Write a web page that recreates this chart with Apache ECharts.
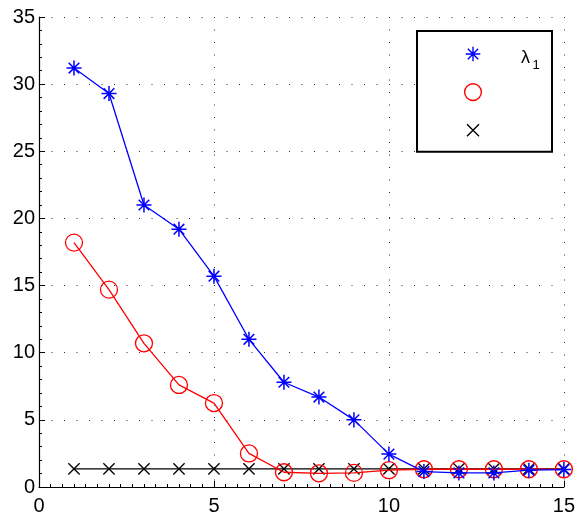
<!DOCTYPE html>
<html>
<head>
<meta charset="utf-8">
<script src="https://cdn.jsdelivr.net/npm/echarts@6/dist/echarts.min.js"></script>
<style>
  html, body { margin: 0; padding: 0; background: #fff; }
  #chart { width: 578px; height: 518px; }
</style>
</head>
<body>
<div id="chart"></div>
<script>
// Iteration index on the x axis
const steps = [1, 2, 3, 4, 5, 6, 7, 8, 9, 10, 11, 12, 13, 14, 15];
// Eigenvalue estimates per step
const lambda1 = [31.2, 29.3, 21.0, 19.2, 15.7, 11.0, 7.8, 6.7, 5.0, 2.45, 1.15, 1.05, 1.05, 1.25, 1.3];
const lambda2 = [18.2, 14.7, 10.7, 7.6, 6.25, 2.5, 1.1, 1.02, 1.05, 1.25, 1.32, 1.32, 1.32, 1.32, 1.32];
const lambda3 = [1.35, 1.35, 1.35, 1.35, 1.35, 1.35, 1.35, 1.35, 1.35, 1.35, 1.35, 1.35, 1.35, 1.35, 1.35];
const xTicks = [0, 5, 10, 15];
const yTicks = [0, 5, 10, 15, 20, 25, 30, 35];

const pairs = (ys) => steps.map((x, i) => [x, ys[i]]);

// Stroke-only marker shapes; the leading moveTo points pad the bounding box
const asterisk = 'path://M-1.15,-1.15M1.15,1.15M0,-1L0,1M-1,0L1,0M-0.707,-0.707L0.707,0.707M-0.707,0.707L0.707,-0.707';
const cross = 'path://M-1.4,-1.4M1.4,1.4M-1,-1L1,1M-1,1L1,-1';

const font = 'Liberation Sans, Arial, Helvetica, sans-serif';

const chart = echarts.init(document.getElementById('chart'), null, { renderer: 'canvas' });

const gridLine = { show: true, lineStyle: { color: '#333', width: 1, type: [1, 11.5] } };

chart.setOption({
  animation: false,
  backgroundColor: '#fff',
  grid: { left: 39, right: 12, top: 17, bottom: 31, containLabel: false },
  xAxis: {
    type: 'value',
    min: xTicks[0], max: xTicks[xTicks.length - 1], interval: 5,
    axisLine: { show: true, onZero: false, lineStyle: { color: '#000', width: 1.2 } },
    axisTick: { show: true, inside: true, length: 6, lineStyle: { color: '#000', width: 1 } },
    minorTick: { show: true, splitNumber: 15, length: 3, lineStyle: { color: '#000', width: 1 } },
    axisLabel: { color: '#000', fontSize: 20, fontFamily: font, margin: 9 },
    splitLine: gridLine
  },
  yAxis: {
    type: 'value',
    min: yTicks[0], max: yTicks[yTicks.length - 1], interval: 5,
    axisLine: { show: true, onZero: false, lineStyle: { color: '#000', width: 1.2 } },
    axisTick: { show: true, inside: true, length: 6, lineStyle: { color: '#000', width: 1 } },
    minorTick: { show: true, splitNumber: 5, length: 3, lineStyle: { color: '#000', width: 1 } },
    axisLabel: { color: '#000', fontSize: 20, fontFamily: font, margin: 4 },
    splitLine: gridLine
  },
  legend: {
    orient: 'vertical',
    left: 417, top: 31,
    padding: [12.5, 35, 12.5, 12],
    itemWidth: 88, itemHeight: 21, itemGap: 18.5,
    borderColor: '#000', borderWidth: 2,
    backgroundColor: '#fff',
    selectedMode: false,
    lineStyle: { width: 0, opacity: 0 },
    itemStyle: { borderWidth: 1.4 },
    data: ['λ1', 'λ2', 'λ3'],
    formatter: () => '',
    textStyle: { color: '#000', fontFamily: font, fontSize: 18 }
  },
  // Legend label for the first entry, lambda with subscript 1
  graphic: [
    {
      type: 'text', left: 521, top: 49, z: 100,
      style: { text: 'λ', fontSize: 18, fontFamily: font, fill: '#000' }
    },
    {
      type: 'text', left: 532.5, top: 59, z: 100,
      style: { text: '1', fontSize: 13, fontFamily: font, fill: '#000' }
    }
  ],
  series: [
    {
      name: 'λ1', type: 'line', data: pairs(lambda1),
      symbol: asterisk, symbolSize: 17.3,
      itemStyle: { color: 'transparent', borderColor: '#0000ff', borderWidth: 1.5 },
      lineStyle: { color: '#0000ff', width: 1.3 },
      z: 4
    },
    {
      name: 'λ2', type: 'line', data: pairs(lambda2),
      symbol: 'circle', symbolSize: 17,
      itemStyle: { color: 'transparent', borderColor: '#ff0000', borderWidth: 1.3 },
      lineStyle: { color: '#ff0000', width: 1.3 },
      z: 3
    },
    {
      name: 'λ3', type: 'line', data: pairs(lambda3),
      symbol: cross, symbolSize: 15.8,
      itemStyle: { color: 'transparent', borderColor: '#000000', borderWidth: 1.3 },
      lineStyle: { color: '#000000', width: 1.3 },
      z: 2
    }
  ]
});
</script>
</body>
</html>
